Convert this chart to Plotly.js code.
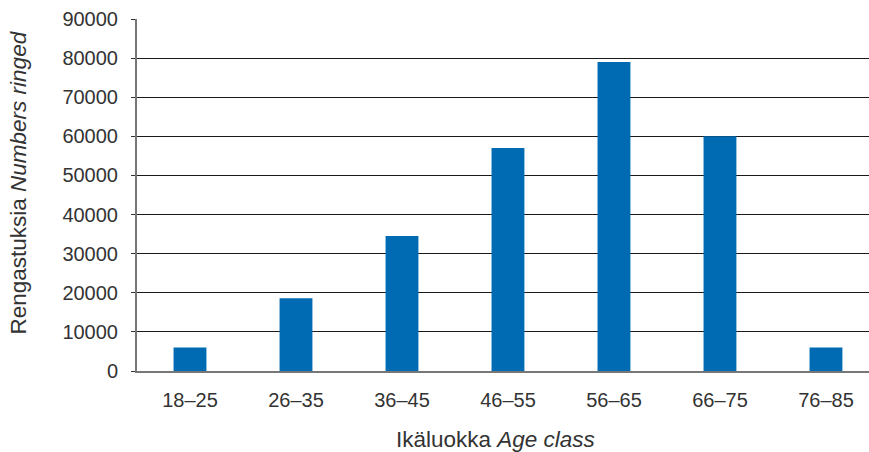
<!DOCTYPE html>
<html><head><meta charset="utf-8">
<script src="https://cdn.plot.ly/plotly-3.0.1.min.js"></script>
<style>html,body{margin:0;padding:0;background:#fff}</style>
</head><body>
<div id="chart" style="width:869px;height:452px"></div>
<script>
const categories = ["18–25","26–35","36–45","46–55","56–65","66–75","76–85"];
const numbersRinged = [6000, 18600, 34500, 57000, 79000, 60000, 6000];
const yTicks = [0,10000,20000,30000,40000,50000,60000,70000,80000,90000];
const xTitle = "Ikäluokka <i>Age class</i>";
const yTitle = "Rengastuksia <i>Numbers ringed</i>";

const fam = "Liberation Sans, Arial, sans-serif";
const txt = "#333";

Plotly.newPlot("chart", [{
  type: "bar",
  x: categories.map((c,i)=>i),
  y: numbersRinged,
  width: 0.31,
  marker: {color: "#006bb3"},
  hoverinfo: "skip"
}], {
  width: 869, height: 452,
  margin: {l: 137, r: 0, t: 19, b: 81},
  paper_bgcolor: "#fff", plot_bgcolor: "#fff",
  showlegend: false,
  font: {family: fam, size: 20, color: txt},
  xaxis: {
    range: [-0.5, 6.406],
    tickvals: categories.map((c,i)=>i),
    ticktext: categories,
    showgrid: false, zeroline: false,
    showline: true, linecolor: "#777", linewidth: 2,
    ticks: "", ticklabelstandoff: 10,
    tickfont: {family: fam, size: 20, color: txt}
  },
  yaxis: {
    range: [0, 90000],
    tickvals: yTicks,
    ticktext: yTicks.map(String),
    showgrid: true, gridcolor: "#1a1a1a", gridwidth: 1,
    zeroline: false,
    showline: true, linecolor: "#777", linewidth: 2,
    ticks: "outside", ticklen: 4, tickcolor: "#333",
    ticklabelstandoff: 9,
    tickfont: {family: fam, size: 20, color: txt}
  },
  annotations: [
    {text: xTitle, xref: "paper", yref: "paper", x: 0.4904, y: -0.196,
     xanchor: "center", yanchor: "middle", showarrow: false,
     font: {family: fam, size: 22.5, color: txt}},
    {text: yTitle, xref: "paper", yref: "paper", x: -0.1612, y: 0.5355,
     xanchor: "center", yanchor: "middle", showarrow: false, textangle: -90,
     font: {family: fam, size: 22.5, color: txt}}
  ]
}, {staticPlot: true});
</script>
</body></html>
